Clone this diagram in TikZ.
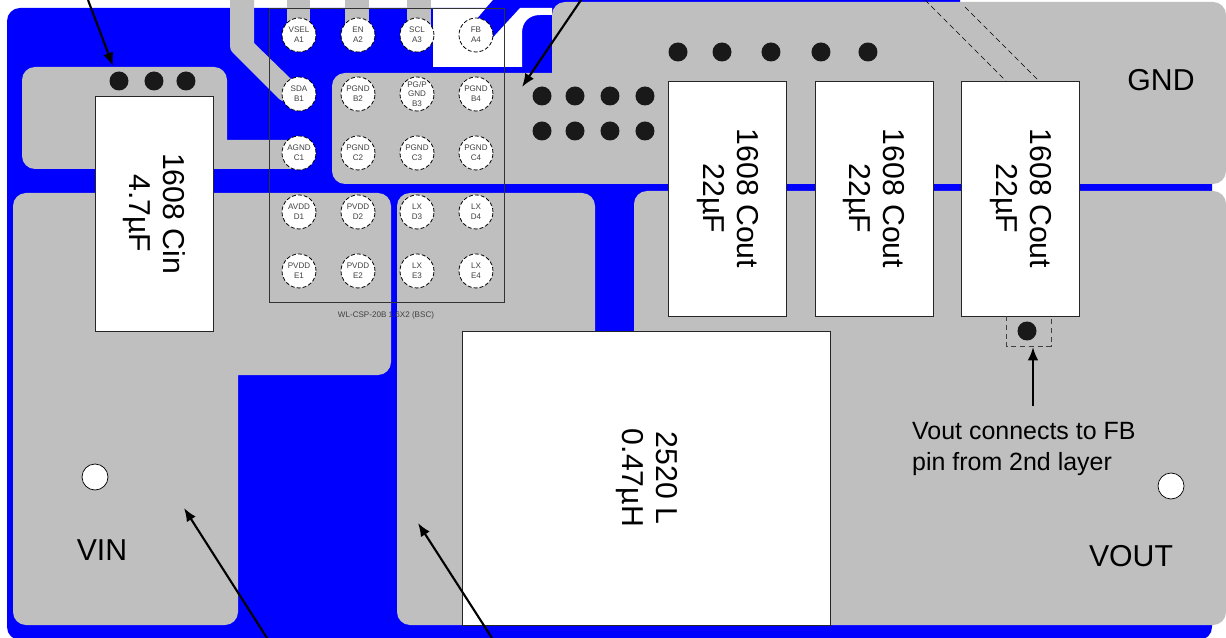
\documentclass[tikz,border=0pt]{standalone}
\usepackage{fontspec}
\setmainfont{Liberation Sans}
\usetikzlibrary{arrows.meta,positioning}
\begin{document}
\begin{tikzpicture}[x=0.02cm,y=-0.02cm,>={Latex[length=7.6pt,width=6pt]},node distance=0.5cm]
\tikzstyle{board}=[fill=blue!100!black]
\tikzstyle{copper}=[fill=black!25,rounded corners=0.26cm]
\tikzstyle{trace}=[fill=black!25]
\tikzstyle{komp}=[rectangle,draw=black!85,fill=white,line width=0.5pt,inner sep=0pt,outer sep=0pt,minimum width=2.36cm,minimum height=4.7cm]
\tikzstyle{komp_text}=[rotate=-90,align=center,font=\fontsize{17.2}{19.4}\selectfont]
\tikzstyle{pad}=[circle,draw=black,fill=white,line width=0.45pt,dash pattern=on 2.2pt off 1.2pt,inner sep=0pt,outer sep=0pt,minimum size=0.68cm,align=center,text=black!75,font=\fontsize{4.6}{5.6}\selectfont]
\tikzstyle{via}=[circle,fill=black!90,inner sep=0pt,outer sep=0pt,minimum size=0.38cm]
\tikzstyle{hole}=[circle,draw=black,fill=white,line width=0.4pt,inner sep=0pt,minimum size=0.52cm]
\tikzstyle{net}=[font=\fontsize{17.2}{20}\selectfont]
\tikzstyle{pointer}=[->,line width=1.2pt]

\useasboundingbox (0,0) rectangle (1226,638);
\clip (0,0) rectangle (1226,638);
\fill[white] (0,0) rectangle (1226,638);

\fill[board,rounded corners=0.26cm] (7,8) rectangle (1212,640);
\fill[board] (486,8) -- (493,0) -- (960,0) -- (960,8) -- cycle;
\fill[white] (433,8) -- (486,8) -- (468,29) -- (487,44) -- (520,8) -- (552,8) -- (552,15) -- (540,15) .. controls (529,15) and (522,22) .. (522,33) -- (522,67) -- (433,67) -- cycle;

\fill[trace] (287,0) rectangle (310,35);
\fill[trace] (345,0) rectangle (369,35);
\fill[trace] (407,0) rectangle (431,34);
\fill[trace] (230,0) -- (254,0) -- (254,43) -- (292,80) -- (299,95) -- (296,102) -- (287,102) .. controls (283,102) and (280,100) .. (277,97) -- (233,53) .. controls (231,51) and (230,49) .. (230,46) -- cycle;

\fill[copper] (22,67) -- (227,67) [sharp corners] -- (227,140) -- (299,140) -- (299,169) [rounded corners=0.26cm] -- (22,169) -- cycle;
\fill[copper] (332,73) [sharp corners] -- (552,73) [rounded corners=0.26cm] -- (552,2) -- (1226,2) -- (1226,184) -- (332,184) -- cycle;
\fill[copper] (13,193) -- (391,193) -- (391,375) [sharp corners] -- (238,375) [rounded corners=0.26cm] -- (238,625) -- (13,625) -- cycle;
\fill[copper] (397,193) -- (595,193) -- (595,625) -- (397,625) -- cycle;
\fill[copper] (634,191) -- (1226,191) -- (1226,625) -- (634,625) -- cycle;

\node[komp] (cin) at (154,213.5) {};
\node[komp] (cout1) at (727.7,198.5) {};
\node[komp] (cout2) [right=0.57cm of cout1] {};
\node[komp] (cout3) [right=0.57cm of cout2] {};
\node[komp,minimum width=7.36cm,minimum height=5.88cm] (ind) at (646.7,478) {};

\coordinate (dash1_start) at (925,0);
\coordinate (dash1_end) at (1006,81);
\coordinate (dash2_start) at (965,7);
\coordinate (dash2_end) at (1039,81);
\draw[black,line width=0.35pt,dash pattern=on 3pt off 2pt] (dash1_start) -- (dash1_end);
\draw[black,line width=0.35pt,dash pattern=on 3pt off 2pt] (dash2_start) -- (dash2_end);

\node[komp_text] (cin_text) at (cin) {1608 Cin\\4.7µF};
\node[komp_text] (cout1_text) at (cout1) {1608 Cout\\22µF};
\node[komp_text] (cout2_text) at (cout2) {1608 Cout\\22µF};
\node[komp_text] (cout3_text) at (cout3) {1608 Cout\\22µF};
\node[komp_text] (ind_text) at (ind) {2520 L\\0.47µH};

\draw[black!80,line width=0.55pt] (269,8) rectangle (504,302);
\node[text=black!75,font=\fontsize{4.6}{5.6}\selectfont] (wlcsp) at (386,315) {WL-CSP-20B 1.6X2 (BSC)};

\node[pad] (a1) at (299,35) {VSEL\\A1};
\node[pad] (a2) [right=of a1] {EN\\A2};
\node[pad] (a3) [right=of a2] {SCL\\A3};
\node[pad] (a4) [right=of a3] {FB\\A4};
\node[pad] (b1) [below=of a1] {SDA\\B1};
\node[pad] (b2) [below=of a2] {PGND\\B2};
\node[pad] (b3) [below=of a3] {PG/P\\GND\\B3};
\node[pad] (b4) [below=of a4] {PGND\\B4};
\node[pad] (c1) [below=of b1] {AGND\\C1};
\node[pad] (c2) [below=of b2] {PGND\\C2};
\node[pad] (c3) [below=of b3] {PGND\\C3};
\node[pad] (c4) [below=of b4] {PGND\\C4};
\node[pad] (d1) [below=of c1] {AVDD\\D1};
\node[pad] (d2) [below=of c2] {PVDD\\D2};
\node[pad] (d3) [below=of c3] {LX\\D3};
\node[pad] (d4) [below=of c4] {LX\\D4};
\node[pad] (e1) [below=of d1] {PVDD\\E1};
\node[pad] (e2) [below=of d2] {PVDD\\E2};
\node[pad] (e3) [below=of d3] {LX\\E3};
\node[pad] (e4) [below=of d4] {LX\\E4};

\node[via] (via_cin1) at (119,81) {};
\node[via] (via_cin2) [right=0.32cm of via_cin1] {};
\node[via] (via_cin3) [right=0.26cm of via_cin2] {};

\node[via] (via_top1) at (678,52) {};
\node[via] (via_top2) [right=0.5cm of via_top1] {};
\node[via] (via_top3) [right=0.6cm of via_top2] {};
\node[via] (via_top4) [right=0.62cm of via_top3] {};
\node[via] (via_top5) [right=0.56cm of via_top4] {};

\node[via] (via_gnd1) at (542,96) {};
\node[via] (via_gnd2) [right=0.28cm of via_gnd1] {};
\node[via] (via_gnd3) [right=0.32cm of via_gnd2] {};
\node[via] (via_gnd4) [right=0.32cm of via_gnd3] {};
\node[via] (via_gnd5) [below=0.32cm of via_gnd1] {};
\node[via] (via_gnd6) [below=0.32cm of via_gnd2] {};
\node[via] (via_gnd7) [below=0.32cm of via_gnd3] {};
\node[via] (via_gnd8) [below=0.32cm of via_gnd4] {};

\node[via] (via_fb) at (1027,331) {};
\draw[black!75,line width=0.5pt,dash pattern=on 3pt off 2pt] (1006,316) -- (1006,346) -- (1051,346) -- (1051,316);

\node[hole] (hole_vin) at (95,477) {};
\node[hole] (hole_vout) at (1171,486) {};

\node[net] (gnd) at (1161,80) {GND};
\node[net] (vin) at (102,550) {VIN};
\node[net] (vout) at (1131,556) {VOUT};
\node[align=left,anchor=west,font=\fontsize{14.2}{17.2}\selectfont] (note) at (906,449) {Vout connects to FB\\pin from 2nd layer};

\coordinate (arrow1_start) at (88,0);
\coordinate (arrow1_end) at (113,66);
\coordinate (arrow2_start) at (581,0);
\coordinate (arrow2_end) at (522,87);
\coordinate (arrow3_start) at (267,638);
\coordinate (arrow3_end) at (184,508);
\coordinate (arrow4_start) at (492,638);
\coordinate (arrow4_end) at (418,523);
\coordinate (arrow5_start) at (1033,406);
\coordinate (arrow5_end) at (1033,347);
\draw[pointer] (arrow1_start) -- (arrow1_end);
\draw[pointer] (arrow2_start) -- (arrow2_end);
\draw[pointer] (arrow3_start) -- (arrow3_end);
\draw[pointer] (arrow4_start) -- (arrow4_end);
\draw[pointer] (arrow5_start) -- (arrow5_end);
\end{tikzpicture}
\end{document}
